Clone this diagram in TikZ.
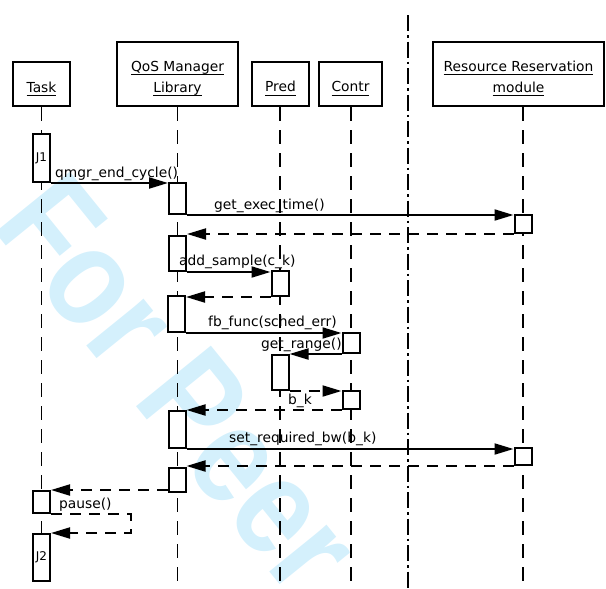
\documentclass[tikz,border=0pt]{standalone}
\usepackage{fontspec}
\setmainfont{DejaVu Sans}
\newfontfamily\wmfont{Liberation Sans}
\usetikzlibrary{arrows.meta}
\definecolor{wmcol}{RGB}{212,240,252}
\newcommand\ulx[1]{\setbox0\hbox{#1}\rlap{\rule[-4pt]{\wd0}{1pt}}\box0}
\begin{document}
\begin{tikzpicture}[x=1pt,y=-1pt,
  hdr/.style={draw, line width=2.3pt, inner sep=0pt},
  htext/.style={anchor=base, inner sep=0pt, font=\fontsize{13.8}{16}\selectfont},
  act/.style={draw, fill=white, line width=2pt, minimum width=17pt, inner sep=0pt, anchor=north},
  jlbl/.style={inner sep=0pt, font=\fontsize{12}{13}\selectfont},
  lifeline/.style={line width=1.1pt, dash pattern=on 14pt off 9pt},
  divider/.style={line width=2.4pt, dash pattern=on 16pt off 4pt on 2.5pt off 4pt},
  msg/.style={line width=2pt, -{Triangle[length=19pt,width=11pt]}},
  ret/.style={msg, dash pattern=on 11pt off 8pt},
  lbl/.style={anchor=base west, inner sep=0pt, font=\fontsize{13.8}{16}\selectfont},
  wm/.style={anchor=base west, inner sep=0pt, text=wmcol, rotate=-51,
    font=\wmfont\bfseries\fontsize{140}{140}\selectfont}
]
\useasboundingbox (0,0) rectangle (606,589);
\begin{scope}
\clip (0,0) rectangle (606,589);
\node[wm] (wmark) at (-10,226) {\scalebox{0.85}[1]{For Peer}};
\end{scope}

% header boxes
\node[hdr, minimum width=57pt, minimum height=44pt] (task) at (41.5,84) {};
\node[hdr, minimum width=121pt, minimum height=64pt] (qos) at (177.5,74) {};
\node[hdr, minimum width=57pt, minimum height=44pt] (pred) at (280.5,84) {};
\node[hdr, minimum width=63pt, minimum height=44pt] (contr) at (350.5,84) {};
\node[hdr, minimum width=171pt, minimum height=64pt] (rr) at (518.5,74) {};
\node[htext] (taskt) at (41.5,92) {\ulx{Task}};
\node[htext] (qost1) at (177.5,71) {\ulx{QoS Manager}};
\node[htext] (qost2) at (177.5,92) {\ulx{Library}};
\node[htext] (predt) at (280.5,91.5) {\ulx{Pred}};
\node[htext] (contrt) at (350.5,91.5) {\ulx{Contr}};
\node[htext] (rrt1) at (518.5,71) {\ulx{Resource Reservation}};
\node[htext] (rrt2) at (518.5,92) {\ulx{module}};

% lifelines
\coordinate (bot) at (0,589);
\draw[lifeline] (41.5,107) -- (41.5,589);
\draw[lifeline] (qos.south) -- (qos.south |- bot);
\draw[lifeline] (280,107) -- (280,589);
\draw[lifeline] (351,107) -- (351,589);
\draw[lifeline] (523,107) -- (523,589);

% divider
\coordinate (dtop) at (408,15);
\coordinate (dbot) at (408,589);
\draw[divider] (dtop) -- (dbot);

% activations
\node[act, minimum height=48pt] (j1) at (41.5,133) {};
\node[jlbl] (j1t) at (j1.center) {J1};
\node[act, minimum height=31pt] (q1) at (177.5,182) {};
\node[act, minimum height=18pt] (r1) at (523,214) {};
\node[act, minimum height=35pt] (q2) at (177.5,235) {};
\node[act, minimum height=25pt] (p1) at (280,270) {};
\node[act, minimum height=36pt] (q3) at (176.5,295) {};
\node[act, minimum height=20pt] (c1) at (351,332) {};
\node[act, minimum height=35pt] (p2) at (280,354) {};
\node[act, minimum height=18pt] (c2) at (351,390) {};
\node[act, minimum height=37pt] (q4) at (177,410) {};
\node[act, minimum height=17pt] (r2) at (523,447) {};
\node[act, minimum height=24pt] (q5) at (177,467) {};
\node[act, minimum height=22pt] (t2) at (41.5,490) {};
\node[act, minimum height=47pt] (j2) at (41.5,533) {};
\node[jlbl] (j2t) at (j2.center) {J2};

% messages
\draw[msg] (j1.south east) -- (j1.south east -| q1.west);
\draw[msg] (q1.south east) -- (q1.south east -| r1.west);
\draw[ret] (r1.south west) -- (r1.south west -| q2.east);
\draw[msg] (q2.south east) -- (q2.south east -| p1.west);
\draw[ret] (p1.south west) -- (p1.south west -| q3.east);
\draw[msg] (q3.south east) -- (q3.south east -| c1.west);
\draw[msg] (c1.south west) -- (c1.south west -| p2.east);
\draw[ret] (p2.south east) -- (p2.south east -| c2.west);
\draw[ret] (c2.south west) -- (c2.south west -| q4.east);
\draw[msg] (q4.south east) -- (q4.south east -| r2.west);
\draw[ret] (r2.south west) -- (r2.south west -| q5.east);
\draw[ret] (q5.west |- t2.north) -- (t2.north east);
\coordinate (pc) at (131,0);
\draw[ret] (t2.south east) -- (pc |- t2.south) |- (j2.north east);

% labels
\node[lbl] (l1) at (55,177) {qmgr\_end\_cycle()};
\node[lbl] (l2) at (214,209) {get\_exec\_time()};
\node[lbl] (l3) at (179,265) {add\_sample(c\_k)};
\node[lbl] (l4) at (208,326) {fb\_func(sched\_err)};
\node[lbl] (l5) at (261,348) {get\_range()};
\node[lbl] (l6) at (288,404) {b\_k};
\node[lbl] (l7) at (229,442) {set\_required\_bw(b\_k)};
\node[lbl] (l8) at (59,508) {pause()};
\end{tikzpicture}
\end{document}
